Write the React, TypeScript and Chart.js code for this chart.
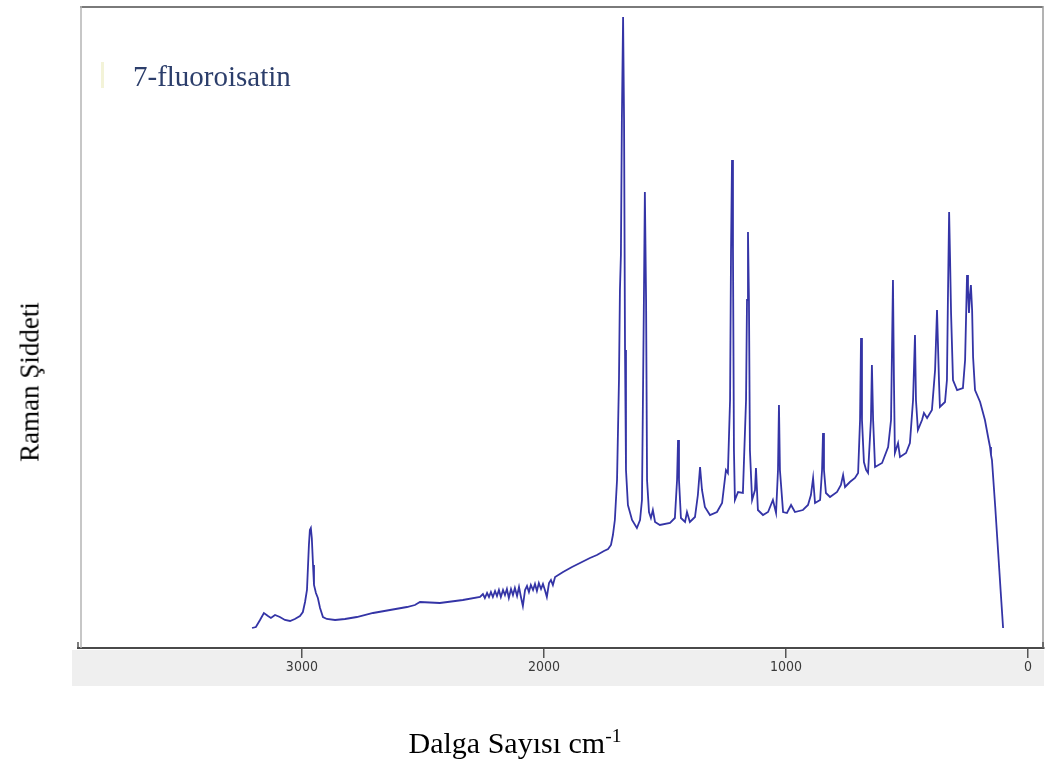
import React, { useEffect, useRef } from "react";
import { Chart, registerables } from "chart.js";

Chart.register(...registerables);

// Raman shift (cm-1)
const wavenumbers = [3206,3190,3173,3157,3140,3128,3111,3091,3070,3049,3029,3008,2996,2987,2979,2971,2967,2963,2959,2954,2950,2942,2934,2925,2913,2897,2863,2822,2773,2706,2636,2566,2533,2512,2430,2335,2264,2252,2244,2235,2227,2219,2211,2202,2194,2186,2178,2169,2161,2153,2145,2136,2128,2120,2111,2103,2095,2087,2078,2070,2062,2054,2045,2037,2029,2021,2012,2004,1996,1988,1979,1971,1963,1954,1921,1884,1851,1810,1781,1752,1735,1723,1715,1707,1698,1690,1686,1682,1678,1673,1669,1665,1661,1653,1636,1616,1603,1595,1587,1583,1578,1574,1566,1558,1550,1541,1521,1479,1459,1450,1446,1442,1434,1417,1409,1397,1376,1364,1355,1347,1335,1314,1285,1264,1248,1240,1231,1227,1223,1219,1215,1211,1198,1178,1165,1161,1157,1153,1149,1140,1128,1124,1116,1095,1074,1054,1041,1033,1029,1025,1012,996,979,963,930,909,897,888,880,859,851,847,843,835,818,789,773,764,756,736,715,702,694,690,686,678,669,661,649,645,640,632,603,578,566,558,554,550,537,529,504,488,475,467,463,455,438,430,417,397,384,376,368,364,343,335,331,326,322,318,310,293,269,260,252,248,244,240,236,231,227,219,198,178,165,157,153,149,136,124,112,103];

// Raman intensity (arbitrary units)
const intensities = [20,21,28,35,32,30,33,31,28,27,29,32,36,46,58,103,118,120,110,83,63,55,50,40,31,29,28,29,31,35,38,41,43,46,45,48,51,54,50,55,51,56,51,57,52,58,51,58,53,59,50,59,53,60,52,61,51,42,58,62,56,63,58,64,57,65,59,64,58,51,65,68,63,71,76,81,85,90,93,97,99,103,113,128,168,268,358,393,528,631,528,298,178,143,128,120,128,148,348,456,348,168,136,130,138,126,123,125,130,168,208,168,130,126,136,126,131,153,181,158,141,133,136,145,178,175,248,398,488,398,198,148,156,155,248,348,416,348,198,148,158,180,138,133,136,148,135,178,243,178,136,135,143,136,138,143,153,170,145,148,178,215,178,155,151,156,163,173,161,166,170,175,228,310,228,186,178,175,228,283,228,181,185,201,228,368,268,195,205,191,195,205,248,313,248,218,228,235,230,238,278,338,268,241,246,268,348,436,388,335,268,258,260,288,373,358,335,353,363,338,291,258,246,228,211,201,193,188,143,98,53,20];

const xTickValues = [3000, 2000, 1000, 0];
const seriesLabel = "7-fluoroisatin";
const xTitle = "Dalga Sayısı cm";
const xTitleSup = "-1";
const yTitle = "Raman Şiddeti";

const framePlugin = {
  id: "frame",
  beforeDraw(chart: any) {
    const { ctx, chartArea } = chart;
    ctx.save();
    ctx.fillStyle = "#ffffff";
    ctx.fillRect(0, 0, chart.width, chart.height);
    ctx.fillStyle = "#efefef";
    ctx.fillRect(chartArea.left - 6, chartArea.bottom + 2, chartArea.right - chartArea.left + 6, 36);
    ctx.restore();
  },
  beforeDatasetsDraw(chart: any) {
    const { ctx, chartArea } = chart;
    ctx.save();
    ctx.strokeStyle = "#7a7a7a";
    ctx.lineWidth = 2;
    ctx.beginPath();
    ctx.moveTo(chartArea.left + 2, chartArea.top + 1);
    ctx.lineTo(chartArea.right - 1, chartArea.top + 1);
    ctx.stroke();
    ctx.strokeStyle = "#b5b5b5";
    ctx.lineWidth = 1.5;
    ctx.beginPath();
    ctx.moveTo(chartArea.left + 3, chartArea.top);
    ctx.lineTo(chartArea.left + 3, chartArea.bottom);
    ctx.stroke();
    ctx.strokeStyle = "#9a9a9a";
    ctx.beginPath();
    ctx.moveTo(chartArea.right - 1, chartArea.top);
    ctx.lineTo(chartArea.right - 1, chartArea.bottom);
    ctx.stroke();
    ctx.strokeStyle = "#555";
    ctx.lineWidth = 1.5;
    ctx.beginPath();
    ctx.moveTo(chartArea.left, chartArea.bottom - 6);
    ctx.lineTo(chartArea.left, chartArea.bottom);
    ctx.moveTo(chartArea.right - 1, chartArea.bottom - 6);
    ctx.lineTo(chartArea.right - 1, chartArea.bottom);
    ctx.stroke();
    ctx.restore();
  },
};

export default function App() {
  const ref = useRef<HTMLCanvasElement>(null);

  useEffect(() => {
    if (!ref.current) return;
    const n = Math.min(wavenumbers.length, intensities.length);
    const points = [];
    for (let i = 0; i < n; i++) points.push({ x: wavenumbers[i], y: intensities[i] });
    const chart = new Chart(ref.current, {
      type: "line",
      data: {
        datasets: [
          {
            label: seriesLabel,
            data: points,
            borderColor: "#3434a6",
            borderWidth: 1.8,
            pointRadius: 0,
            tension: 0,
            fill: false,
          },
        ],
      },
      options: {
        animation: false,
        responsive: false,
        events: [],
        layout: { padding: { left: 78, right: 4, top: 6, bottom: 81 } },
        plugins: { legend: { display: false }, tooltip: { enabled: false }, title: { display: false } },
        scales: {
          x: {
            type: "linear",
            reverse: true,
            min: -66,
            max: 3925,
            afterBuildTicks: (s: any) => {
              s.ticks = xTickValues.map((v) => ({ value: v }));
            },
            afterFit: (s: any) => {
              s.height = 38;
            },
            grid: { drawOnChartArea: false, drawTicks: true, tickLength: 10, color: "#555", lineWidth: 1.5 },
            border: { display: true, color: "#4a4a4a", width: 2 },
            ticks: {
              color: "#3a3a3a",
              font: { family: "'Liberation Sans Narrow', 'DejaVu Sans Condensed', sans-serif", size: 14 },
              padding: 1,
              maxRotation: 0,
              autoSkip: false,
              callback: (v: any) => String(v),
            },
          },
          y: { display: false, min: 0, max: 642 },
        },
      },
      plugins: [framePlugin],
    } as any);
    return () => chart.destroy();
  }, []);

  return (
    <div style={{ position: "absolute", left: 0, top: 0, width: 1048, height: 767, background: "#fff", overflow: "hidden" }}>
      <canvas ref={ref} width={1048} height={767} style={{ display: "block", width: 1048, height: 767 }} />
      <div style={{ position: "absolute", left: 101, top: 62, width: 3, height: 26, background: "rgba(235,235,190,0.6)" }} />
      <div
        style={{
          position: "absolute",
          left: 133,
          top: 62,
          fontFamily: "'Liberation Serif', 'Times New Roman', serif",
          fontSize: 29,
          lineHeight: "29px",
          color: "#2c3e6b",
          whiteSpace: "nowrap",
        }}
      >
        {seriesLabel}
      </div>
      <div
        style={{
          position: "absolute",
          left: 515,
          top: 728,
          transform: "translateX(-50%)",
          fontFamily: "'Liberation Serif', 'Times New Roman', serif",
          fontSize: 30,
          lineHeight: "30px",
          color: "#000",
          whiteSpace: "nowrap",
        }}
      >
        {xTitle}
        <sup style={{ fontSize: "0.65em", lineHeight: 0 }}>{xTitleSup}</sup>
      </div>
      <div
        style={{
          position: "absolute",
          left: 30,
          top: 382,
          transform: "translate(-50%, -50%) rotate(-90deg)",
          fontFamily: "'Liberation Serif', 'Times New Roman', serif",
          fontSize: 27,
          lineHeight: "27px",
          color: "#000",
          whiteSpace: "nowrap",
        }}
      >
        {yTitle}
      </div>
    </div>
  );
}
